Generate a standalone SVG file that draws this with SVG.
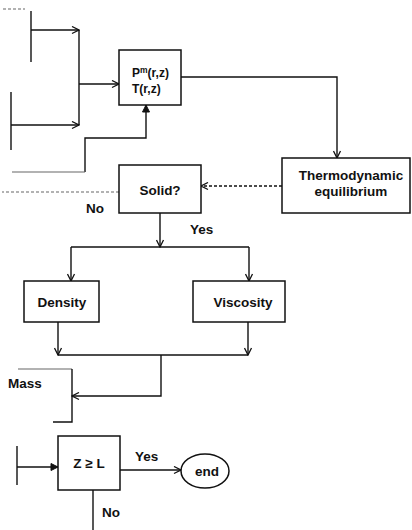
<svg xmlns="http://www.w3.org/2000/svg" width="412" height="530" viewBox="0 0 412 530">
<defs>
<style>
.ln{fill:none;stroke:#111;stroke-width:1.4}
.lt{fill:none;stroke:#666;stroke-width:1.2}
.dsh{stroke-dasharray:3,2}
.box{fill:#fff;stroke:#111;stroke-width:1.5}
.t{font-family:"Liberation Sans",Arial,sans-serif;font-weight:bold;font-size:13.5px;fill:#111}
.c{text-anchor:middle}
.s{font-size:12px}
</style>
<marker id="open" viewBox="0 0 9 9" refX="8" refY="4.5" markerWidth="9" markerHeight="9" markerUnits="userSpaceOnUse" orient="auto">
<path d="M1,1 L8,4.5 L1,8" fill="none" stroke="#111" stroke-width="1.3"/>
</marker>
<marker id="fill" viewBox="0 0 9 9" refX="8" refY="4.5" markerWidth="9" markerHeight="9" markerUnits="userSpaceOnUse" orient="auto">
<path d="M1,1 L8,4.5 L1,8 Z" fill="#111" stroke="#111" stroke-width="1"/>
</marker>
</defs>
<rect width="412" height="530" fill="#fff"/>

<g id="fragments">
<path class="lt dsh" d="M3,9 H25"/>
<path class="ln" d="M31,11 V62"/>
<path class="ln" d="M11,92 V150"/>
<path class="lt" d="M18,369 H72"/>
<path class="ln" d="M72,369 V422 H53"/>
<path class="ln" d="M17,446 V485"/>
</g>

<g id="connectors">
<path class="ln" d="M31,30 H79" marker-end="url(#open)"/>
<path class="ln" d="M11,125 H79" marker-end="url(#open)"/>
<path class="ln" d="M79,30 V125"/>
<path class="ln" d="M79,84 H119" marker-end="url(#open)"/>
<path class="ln" d="M85,172 V138 H146 V105" marker-end="url(#fill)"/>
<path class="lt" d="M12,172 H85"/>
<path class="ln" d="M181,77 H337 V158" marker-end="url(#open)"/>
<path class="ln dsh" d="M282,186 H201" marker-end="url(#open)"/>
<path class="lt dsh" d="M119,192 H2"/>
<path class="ln" d="M160,213 V247" marker-end="url(#open)"/>
<path class="ln" d="M71,247 H249"/>
<path class="ln" d="M71,247 V281" marker-end="url(#open)"/>
<path class="ln" d="M249,247 V281" marker-end="url(#open)"/>
<path class="ln" d="M58,322 V355" marker-end="url(#open)"/>
<path class="ln" d="M248,322 V355" marker-end="url(#open)"/>
<path class="ln" d="M58,355 H248"/>
<path class="ln" d="M161,355 V396 H72" marker-end="url(#open)"/>
<path class="ln" d="M17,467 H58" marker-end="url(#fill)"/>
<path class="ln" d="M120,470 H181" marker-end="url(#open)"/>
<path class="ln" d="M93,490 V530"/>
</g>

<g id="node-p">
<rect class="box" x="119" y="50" width="62" height="55"/>
<text class="t s" x="132" y="77">P<tspan font-size="8.5" dy="-4">m</tspan><tspan dy="4">(r,z)</tspan></text>
<text class="t s" x="132" y="93">T(r,z)</text>
</g>

<g id="node-thermo">
<rect class="box" x="282" y="158" width="128" height="55"/>
<text class="t c" x="351" y="180">Thermodynamic</text>
<text class="t c" x="351" y="196">equilibrium</text>
</g>

<g id="node-solid">
<rect class="box" x="119" y="165" width="82" height="48"/>
<text class="t c" x="160" y="195">Solid?</text>
</g>
<text class="t" x="86" y="213">No</text>
<text class="t" x="190" y="234">Yes</text>

<g id="node-density">
<rect class="box" x="24" y="281" width="75" height="41"/>
<text class="t c" x="62" y="307">Density</text>
</g>

<g id="node-viscosity">
<rect class="box" x="193" y="281" width="92" height="41"/>
<text class="t c" x="243" y="307">Viscosity</text>
</g>

<g id="node-mass">
<text class="t" x="8" y="388">Mass</text>
</g>

<g id="node-zl">
<rect class="box" x="58" y="436" width="62" height="54"/>
<text class="t c" x="89" y="468">Z ≥ L</text>
</g>
<text class="t" x="135" y="461">Yes</text>
<text class="t" x="102" y="517">No</text>

<g id="node-end">
<ellipse class="box" cx="205" cy="471" rx="24" ry="17"/>
<text class="t c" x="207" y="476">end</text>
</g>
</svg>
